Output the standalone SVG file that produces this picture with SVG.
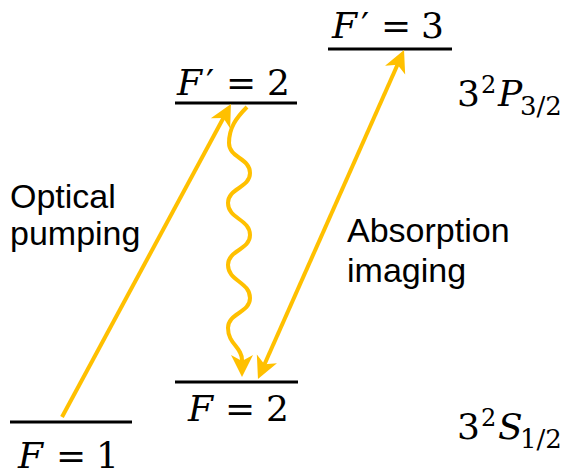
<svg xmlns="http://www.w3.org/2000/svg" width="567" height="475" viewBox="0 0 567 475">
<style>
.lvl{stroke:#000;stroke-width:3;fill:none}
.arr{stroke:#FFC000;stroke-width:4;fill:none;stroke-linecap:butt}
.m{font-family:"DejaVu Serif","Liberation Serif",serif;font-size:36px;fill:#000}
.i{font-style:italic}
.sup{font-size:24px}
.sub{font-size:26px}
.lab{font-family:"Liberation Sans",Arial,sans-serif;font-size:34px;fill:#000}
</style>
<defs>
<marker id="ah" markerUnits="userSpaceOnUse" markerWidth="30" markerHeight="26" viewBox="-20 -13 30 26" refX="0" refY="0" orient="auto-start-reverse">
<path d="M6 0 L-16 -11 L-10 0 L-16 11 Z" fill="#FFC000"/>
</marker>
</defs>
<g id="level-F1">
<line class="lvl" x1="10" y1="422" x2="132" y2="422"/>
<text class="m" y="468"><tspan class="i" x="18">F</tspan><tspan x="56">=</tspan><tspan x="96">1</tspan></text>
</g>
<g id="level-F2">
<line class="lvl" x1="175" y1="382" x2="298" y2="382"/>
<text class="m" y="421"><tspan class="i" x="188">F</tspan><tspan x="225">=</tspan><tspan x="266">2</tspan></text>
</g>
<g id="level-Fp2">
<line class="lvl" x1="175" y1="103" x2="297" y2="103"/>
<text class="m" y="95"><tspan class="i" x="177">F</tspan><tspan x="206">′</tspan><tspan x="226">=</tspan><tspan x="267">2</tspan></text>
</g>
<g id="level-Fp3">
<line class="lvl" x1="328" y1="49" x2="452" y2="49"/>
<text class="m" y="38"><tspan class="i" x="332">F</tspan><tspan x="361">′</tspan><tspan x="381">=</tspan><tspan x="421">3</tspan></text>
</g>
<g id="term-P">
<text class="m" y="106"><tspan x="457">3</tspan><tspan class="sup" x="481" dy="-13">2</tspan><tspan class="i" x="498" dy="13">P</tspan><tspan class="sub" x="520" dy="9">3/2</tspan></text>
</g>
<g id="term-S">
<text class="m" y="439"><tspan x="457">3</tspan><tspan class="sup" x="481" dy="-13">2</tspan><tspan class="i" x="498" dy="13">S</tspan><tspan class="sub" x="520" dy="9">1/2</tspan></text>
</g>
<g id="label-optical">
<text class="lab"><tspan x="10" y="208">Optical</tspan><tspan x="10" y="245">pumping</tspan></text>
</g>
<g id="label-absorption">
<text class="lab"><tspan x="347" y="242">Absorption</tspan><tspan x="347" y="282">imaging</tspan></text>
</g>
<g id="connectors">
<line class="arr" x1="62" y1="417" x2="228.1" y2="109.3" marker-end="url(#ah)"/>
<line class="arr" x1="260.4" y1="373.5" x2="401.6" y2="55.5" marker-start="url(#ah)" marker-end="url(#ah)"/>
<path class="arr" d="M247 107 C236 118 229 128 229 143 C229 158 250 158 250 173 C250 188 228 188 228 203 C228 219 250 219 250 235 C250 250 228 250 228 265 C228 281 250 282 250 298 C250 313 228 313 228 328 C228 344 242 347 242 360 L242 371" marker-end="url(#ah)"/>
</g>
</svg>
